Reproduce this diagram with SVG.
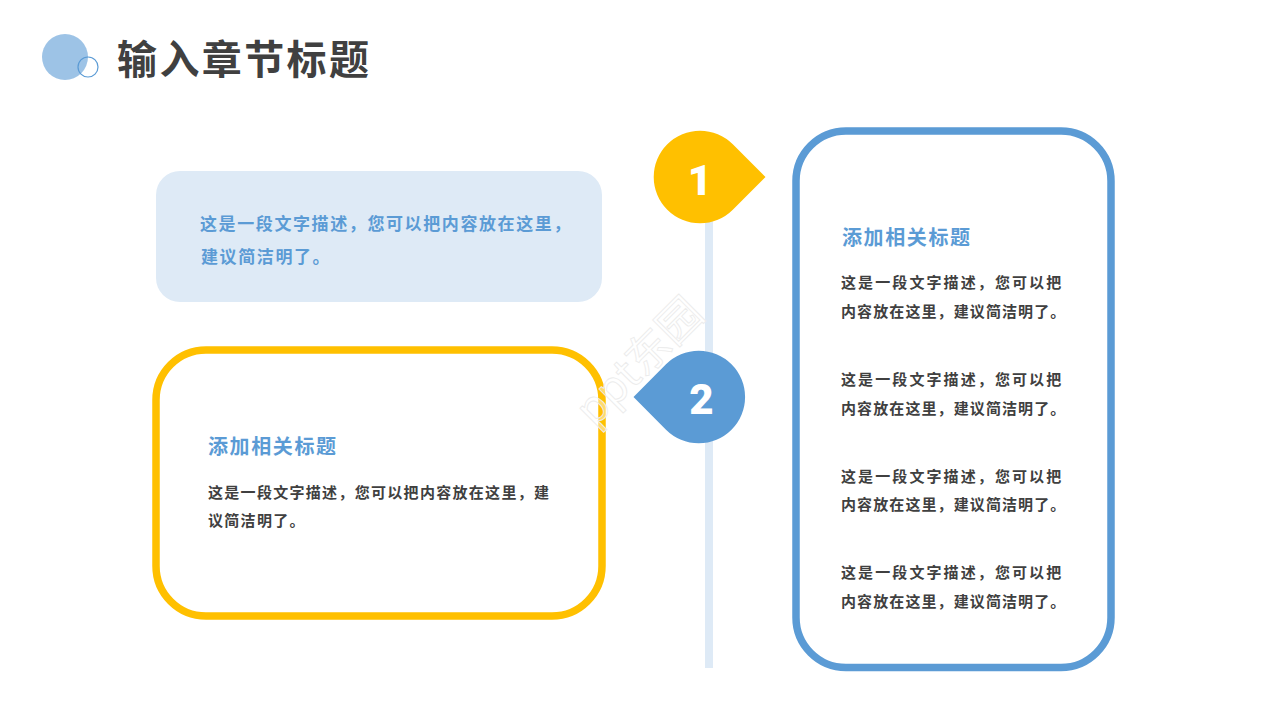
<svg xmlns="http://www.w3.org/2000/svg" width="1280" height="720" viewBox="0 0 1280 720">
<style>
text{font-family:"Noto Sans CJK SC","Noto Sans",sans-serif;font-weight:700}
.t{font-size:15px;fill:#404040}
.a{letter-spacing:2.1px}
.c{letter-spacing:1.1px}
.l{letter-spacing:1.3px}
.h{font-size:20px;fill:#5b9bd5;letter-spacing:1.6px}
.b{font-size:17px;fill:#5b9bd5;letter-spacing:1.6px}
.n{font-size:42px;fill:#fff;text-anchor:middle;font-family:Roboto,sans-serif;font-weight:900}
.w{font-size:44px;fill:#fff;fill-opacity:.45;stroke:#ececec;stroke-width:.9;text-anchor:middle;font-weight:400}
</style>
<rect width="1280" height="720" fill="#fff"/>
<g id="header">
<circle cx="65" cy="57" r="23" fill="#9dc3e6"/>
<circle cx="88" cy="67" r="10" fill="none" stroke="#5b9bd5" stroke-width="1.2"/>
<text x="117" y="74" font-size="40" fill="#404040" letter-spacing="2.4">输入章节标题</text>
</g>
<g id="connectors"><rect x="705" y="200" width="8" height="468" fill="#deeaf6"/></g>
<g id="note">
<rect x="156" y="171" width="446" height="131" rx="24" fill="#deeaf6"/>
<text class="b" x="200" y="230">这是一段文字描述，您可以把内容放在这里，</text>
<text class="b" x="201" y="263">建议简洁明了。</text>
</g>
<g id="card-left">
<rect x="156" y="350" width="446" height="266" rx="50" fill="#fff" stroke="#ffc000" stroke-width="7.500"/>
<text class="h" x="208" y="454">添加相关标题</text>
<text class="t l" x="208" y="498">这是一段文字描述，您可以把内容放在这里，建</text>
<text class="t l" x="208" y="526">议简洁明了。</text>
</g>
<g id="card-right">
<rect x="796" y="131" width="315" height="536.500" rx="50" fill="#fff" stroke="#5b9bd5" stroke-width="7.500"/>
<text class="h" x="842" y="245">添加相关标题</text>
<text class="t a" x="841" y="288">这是一段文字描述，您可以把</text>
<text class="t c" x="841" y="317">内容放在这里，建议简洁明了。</text>
<text class="t a" x="841" y="385">这是一段文字描述，您可以把</text>
<text class="t c" x="841" y="414">内容放在这里，建议简洁明了。</text>
<text class="t a" x="841" y="482">这是一段文字描述，您可以把</text>
<text class="t c" x="841" y="510">内容放在这里，建议简洁明了。</text>
<text class="t a" x="841" y="578">这是一段文字描述，您可以把</text>
<text class="t c" x="841" y="607">内容放在这里，建议简洁明了。</text>
</g>
<g id="marker-1">
<path d="M732.800 144.300A46.300 46.300 0 1 0 732.800 209.700L765.500 177Z" fill="#ffc000"/>
<text class="n" x="700" y="195">1</text>
</g>
<g id="marker-2">
<path d="M666 364.300A46.300 46.300 0 1 1 666 429.700L633.500 397Z" fill="#5b9bd5"/>
<text class="n" x="701.500" y="414">2</text>
</g>
<text class="w" transform="translate(650 372) rotate(-45)">ppt东园</text>
</svg>
